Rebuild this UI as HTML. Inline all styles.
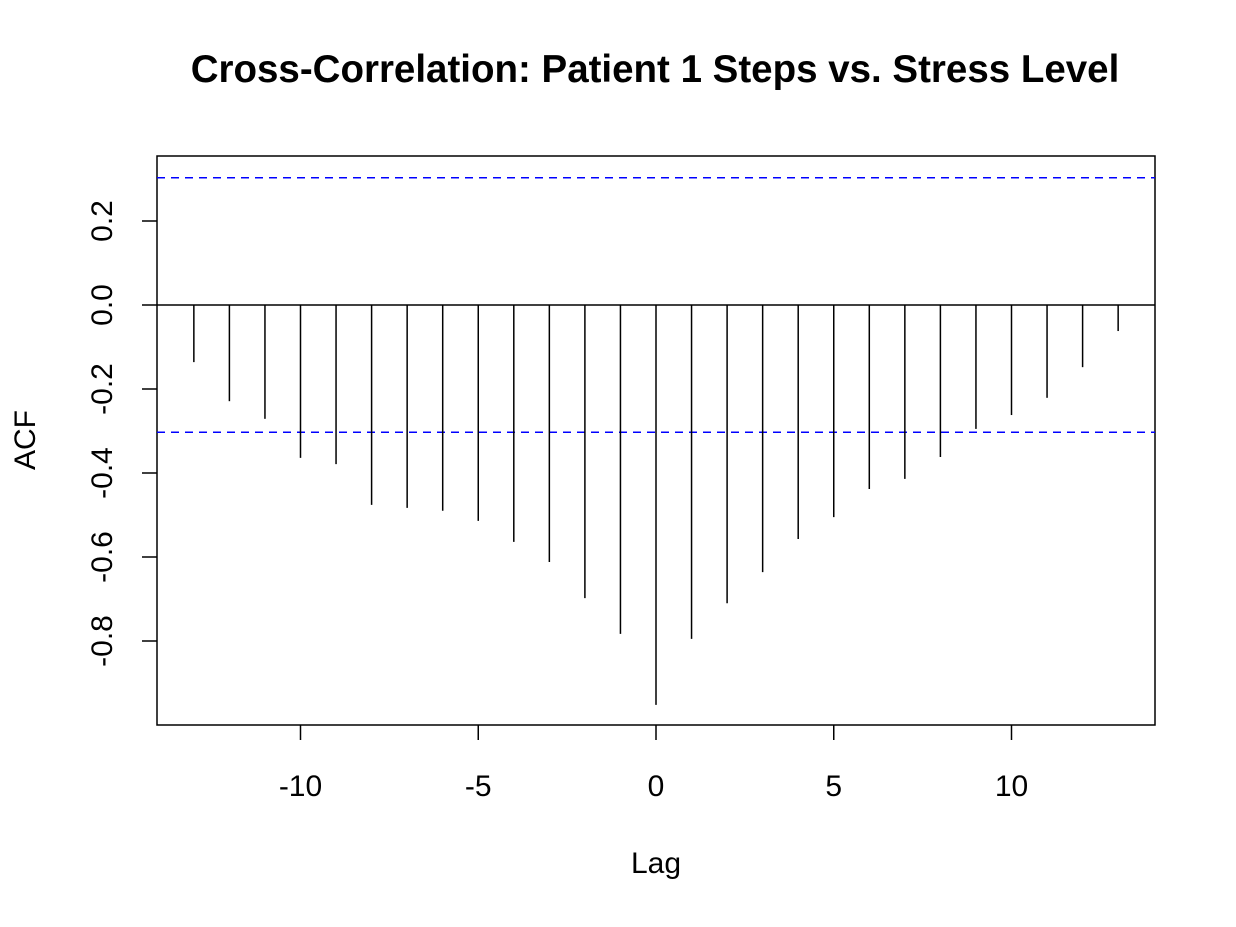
<!DOCTYPE html>
<html><head><meta charset="utf-8"><style>
html,body{margin:0;padding:0;background:#fff;}
svg text{font-family:"Liberation Sans",Arial,sans-serif;}
</style></head><body>
<svg id="chart" width="1236" height="922" xmlns="http://www.w3.org/2000/svg">
<text x="655" y="82" text-anchor="middle" font-size="38.5" font-weight="bold">Cross-Correlation: Patient 1 Steps vs. Stress Level</text>
<rect x="157" y="156" width="998" height="569" fill="none" stroke="#000" stroke-width="1.5"/>
<text x="656" y="873" text-anchor="middle" font-size="30">Lag</text>
<text transform="translate(35,440) rotate(-90)" text-anchor="middle" font-size="30">ACF</text>
<g id="marks"></g>
</svg>
<script>
const lags=[-13,-12,-11,-10,-9,-8,-7,-6,-5,-4,-3,-2,-1,0,1,2,3,4,5,6,7,8,9,10,11,12,13];
const acfValues=[-0.136,-0.229,-0.271,-0.364,-0.379,-0.476,-0.483,-0.490,-0.514,-0.564,-0.612,-0.698,-0.783,-0.952,-0.795,-0.710,-0.636,-0.557,-0.505,-0.438,-0.414,-0.362,-0.295,-0.262,-0.221,-0.148,-0.062];
const xTicks=[-10,-5,0,5,10];
const yTicks=[0.2,0.0,-0.2,-0.4,-0.6,-0.8];
const ciBound=0.303;
const ns="http://www.w3.org/2000/svg";
const xs=v=>656+v*35.55;
const ys=v=>305-v*420;
const g=document.getElementById('marks');
function mk(tag,attrs){const e=document.createElementNS(ns,tag);for(const k in attrs)e.setAttribute(k,attrs[k]);g.appendChild(e);return e;}
const z=mk('line',{x1:157,x2:1155,y1:ys(0),y2:ys(0),stroke:'#000','stroke-width':1.5});


[ciBound,-ciBound].forEach((c,i)=>{
 const l=mk('line',{x1:157,x2:1155,y1:ys(c),y2:ys(c),stroke:'#0000ff','stroke-width':1.5,'stroke-dasharray':'8,6'});
 
 
});
lags.forEach((lag,i)=>{
 const l=mk('line',{x1:xs(lag),x2:xs(lag),y1:ys(0),y2:ys(acfValues[i]),stroke:'#000','stroke-width':1.5});
 
 
});
xTicks.forEach(t=>{
 const l=mk('line',{x1:xs(t),x2:xs(t),y1:725,y2:740,stroke:'#000','stroke-width':1.5});
 
 
 const tx=mk('text',{x:xs(t),y:796,'text-anchor':'middle','font-size':'30'});
 tx.textContent=t;
 
 
});
yTicks.forEach(t=>{
 const l=mk('line',{x1:142,x2:157,y1:ys(t),y2:ys(t),stroke:'#000','stroke-width':1.5});
 
 
 const tx=mk('text',{transform:'translate(112,'+ys(t)+') rotate(-90)','text-anchor':'middle','font-size':'30'});
 tx.textContent=t.toFixed(1);
 
 
});
</script>
</body></html>
